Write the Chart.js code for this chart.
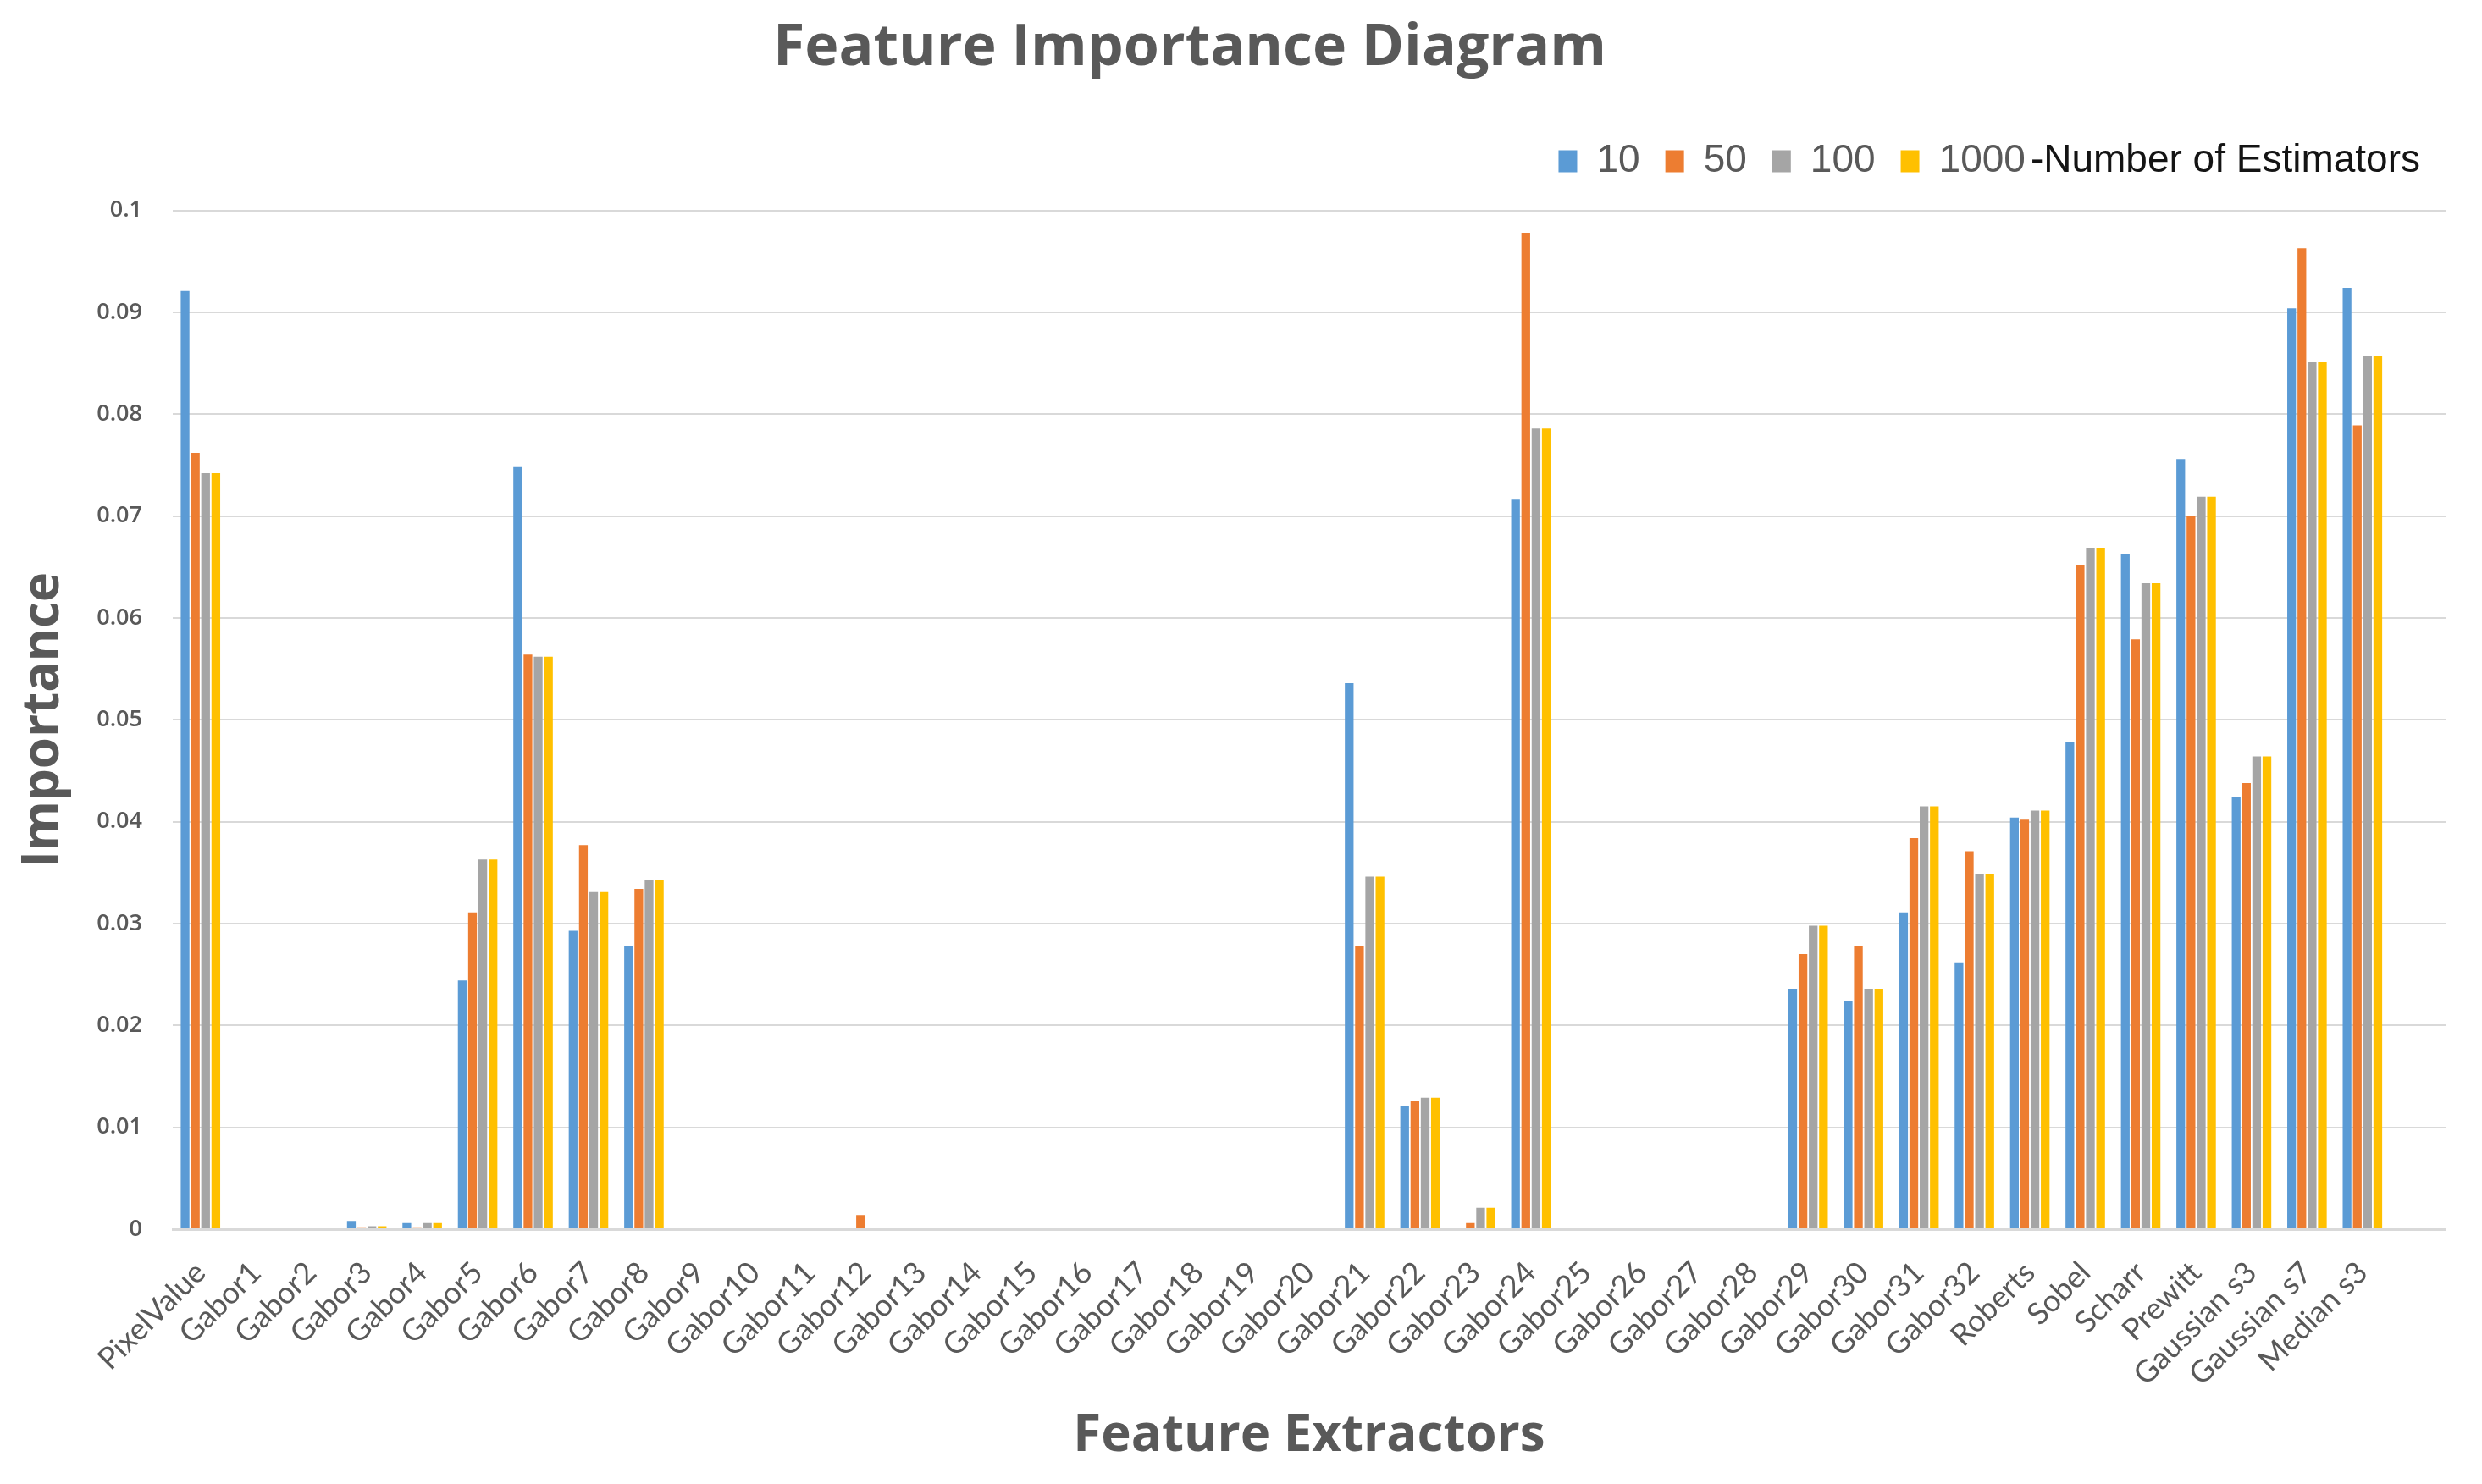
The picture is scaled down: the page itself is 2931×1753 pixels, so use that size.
<!DOCTYPE html>
<html>
<head>
<meta charset="utf-8">
<title>Feature Importance Diagram</title>
<script src="https://cdn.jsdelivr.net/npm/chart.js@4.4.1/dist/chart.umd.min.js"></script>
<style>
  html, body { margin: 0; padding: 0; background: #ffffff; }
</style>
</head>
<body>
<canvas id="chartImportance" width="2931" height="1753"></canvas>
<script>
// feature extractors (last slot is the empty category Excel leaves at the right)
const categories = [
    "PixelValue",
    "Gabor1", "Gabor2", "Gabor3", "Gabor4", "Gabor5", "Gabor6", "Gabor7", "Gabor8",
    "Gabor9", "Gabor10", "Gabor11", "Gabor12", "Gabor13", "Gabor14", "Gabor15", "Gabor16",
    "Gabor17", "Gabor18", "Gabor19", "Gabor20", "Gabor21", "Gabor22", "Gabor23", "Gabor24",
    "Gabor25", "Gabor26", "Gabor27", "Gabor28", "Gabor29", "Gabor30", "Gabor31", "Gabor32",
    "Roberts", "Sobel", "Scharr", "Prewitt", "Gaussian s3", "Gaussian s7", "Median s3",
    ""
];

const est10 = [
    0.0921,
    0, 0, 0.0008, 0.0006, 0.0244, 0.0748, 0.0293, 0.0278,
    0, 0, 0, 0, 0, 0, 0, 0,
    0, 0, 0, 0, 0.0536, 0.0121, 0, 0.0716,
    0, 0, 0, 0, 0.0236, 0.0224, 0.0311, 0.0262,
    0.0404, 0.0478, 0.0663, 0.0756, 0.0424, 0.0904, 0.0924,
    null
];
const est50 = [
    0.0762,
    0, 0, 0.0001, 0.0001, 0.0311, 0.0564, 0.0377, 0.0334,
    0, 0, 0, 0.0014, 0, 0, 0, 0,
    0, 0, 0, 0, 0.0278, 0.0126, 0.0006, 0.0978,
    0, 0, 0, 0, 0.0270, 0.0278, 0.0384, 0.0371,
    0.0402, 0.0652, 0.0579, 0.0700, 0.0438, 0.0963, 0.0789,
    null
];
const est100 = [
    0.0742,
    0, 0, 0.0003, 0.0006, 0.0363, 0.0562, 0.0331, 0.0343,
    0, 0, 0, 0, 0, 0, 0, 0,
    0, 0, 0, 0, 0.0346, 0.0129, 0.0021, 0.0786,
    0, 0, 0, 0, 0.0298, 0.0236, 0.0415, 0.0349,
    0.0411, 0.0669, 0.0634, 0.0719, 0.0464, 0.0851, 0.0857,
    null
];
const est1000 = [
    0.0742,
    0, 0, 0.0003, 0.0006, 0.0363, 0.0562, 0.0331, 0.0343,
    0, 0, 0, 0, 0, 0, 0, 0,
    0, 0, 0, 0, 0.0346, 0.0129, 0.0021, 0.0786,
    0, 0, 0, 0, 0.0298, 0.0236, 0.0415, 0.0349,
    0.0411, 0.0669, 0.0634, 0.0719, 0.0464, 0.0851, 0.0857,
    null
];

const seriesNames = ["10", "50", "100", "1000"];
const yTickLabels = ["0", "0.01", "0.02", "0.03", "0.04", "0.05", "0.06", "0.07", "0.08", "0.09", "0.1"];
const legendNote = "-Number of Estimators";

const GREY_TEXT = "#595959";
const legendFont = "46px 'Liberation Sans'";
const noteGap = 6;

// legend: keep room for the trailing note and push the plot down a bit
const legendNotePlugin = {
    id: "legendNote",
    afterInit(chart) {
        const legend = chart.legend;
        const fit = legend.fit;
        legend.fit = function () {
            fit.call(this);
            const ctx = this.ctx;
            ctx.save();
            ctx.font = legendFont;
            const w = ctx.measureText(legendNote).width;
            ctx.restore();
            this.lineWidths[0] += noteGap + w;
            this.height += 25;
        };
    },
    afterLayout(chart) {
        // title sits a little left of centre in the original
        const t = chart.titleBlock;
        const shift = 1405 - (t.left + t.right) / 2;
        t.left += shift;
        t.right += shift;
    },
    afterDraw(chart) {
        const boxes = chart.legend.legendHitBoxes;
        if (!boxes || !boxes.length) return;
        const last = boxes[boxes.length - 1];
        const ctx = chart.ctx;
        ctx.save();
        ctx.font = legendFont;
        ctx.fillStyle = "#141414";
        ctx.textAlign = "left";
        ctx.textBaseline = "middle";
        ctx.fillText(legendNote, last.left + last.width + noteGap, last.top + last.height / 2);
        ctx.restore();
    }
};

const ctx = document.getElementById("chartImportance");

new Chart(ctx, {
    type: "bar",
    data: {
        labels: categories,
        datasets: [
            { label: seriesNames[0], data: est10, backgroundColor: "#5B9BD5" },
            { label: seriesNames[1], data: est50, backgroundColor: "#ED7D31" },
            { label: seriesNames[2], data: est100, backgroundColor: "#A5A5A5" },
            { label: seriesNames[3], data: est1000, backgroundColor: "#FFC000" }
        ]
    },
    options: {
        responsive: false,
        devicePixelRatio: 1,
        animation: false,
        datasets: {
            bar: { barPercentage: 0.85, categoryPercentage: 0.74, borderWidth: 0 }
        },
        layout: { padding: { left: 12, right: 43, top: 0, bottom: 16 } },
        plugins: {
            title: {
                display: true,
                text: "Feature Importance Diagram",
                color: GREY_TEXT,
                font: { family: "'Open Sans'", size: 68, weight: "bold" },
                padding: { top: 17, bottom: 39 }
            },
            legend: {
                position: "top",
                align: "end",
                labels: {
                    color: GREY_TEXT,
                    font: { family: "'Liberation Sans'", size: 46 },
                    boxWidth: 22,
                    boxHeight: 26,
                    padding: 30
                }
            },
            tooltip: { enabled: false }
        },
        scales: {
            x: {
                grid: { display: false, drawTicks: false },
                border: { color: "#d9d9d9", width: 3 },
                ticks: {
                    color: GREY_TEXT,
                    font: { family: "Lato", size: 36 },
                    minRotation: 45,
                    maxRotation: 45,
                    autoSkip: false,
                    padding: 30,
                    labelOffset: 0
                },
                title: {
                    display: true,
                    text: "Feature Extractors",
                    color: GREY_TEXT,
                    font: { family: "'Open Sans'", size: 60, weight: "bold" },
                    padding: { top: 4, bottom: 4 }
                },
                afterFit(scale) { scale.height = 285; }
            },
            y: {
                min: 0,
                max: 0.1,
                grid: { color: "#d9d9d9", lineWidth: 2, drawTicks: false },
                border: { display: false },
                ticks: {
                    stepSize: 0.01,
                    color: GREY_TEXT,
                    font: { family: "'Open Sans'", size: 27, weight: "600" },
                    padding: 36,
                    callback: (v, i) => yTickLabels[i]
                },
                title: {
                    display: true,
                    text: "Importance",
                    color: GREY_TEXT,
                    font: { family: "'Open Sans'", size: 60, weight: "bold" },
                    padding: { top: 4, bottom: 4 }
                },
                afterFit(scale) { scale.width = 192; }
            }
        }
    },
    plugins: [legendNotePlugin]
});
</script>
</body>
</html>
